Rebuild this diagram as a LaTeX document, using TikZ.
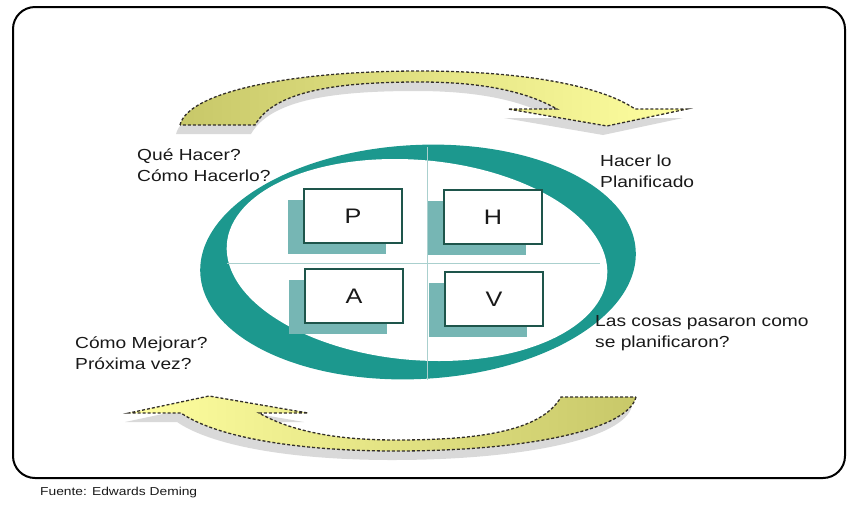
\documentclass[tikz,border=0pt]{standalone}
\usepackage{fontspec}
\setmainfont{Liberation Sans}[FakeStretch=1.2]
\usetikzlibrary{shadows}
\definecolor{ringteal}{RGB}{28,152,142}
\definecolor{shadowteal}{RGB}{118,182,180}
\definecolor{boxline}{RGB}{30,85,75}
\definecolor{divline}{RGB}{170,208,206}
\definecolor{oliveyel}{RGB}{200,200,105}
\definecolor{paleyel}{RGB}{255,255,160}
\newcommand{\pdcaarrow}{(180,125) .. controls (188,92) and (290,71) .. (420,71) .. controls (520,71) and (600,85) .. (635,109) -- (687,109) -- (607,126) -- (508,109) -- (557,109) .. controls (520,88) and (470,82) .. (420,82) .. controls (340,82) and (275,90) .. (255,125) -- cycle}

\begin{document}
\begin{tikzpicture}[x=1pt, y=-1pt, every node/.style={font=\fontsize{16}{21}\selectfont, text=black!90}]
  \tikzset{
    phasebox/.style={draw=boxline, fill=white, line width=1.2pt, minimum width=98pt, minimum height=54pt,
      font=\fontsize{21}{24}\selectfont, drop shadow={shadow xshift=-16pt, shadow yshift=-11pt, fill=shadowteal, opacity=1}},
    note/.style={anchor=west, align=left, inner sep=0pt},
    arrowline/.style={draw=black!85!olive, line width=1.3pt, densely dashed}
  }
  \useasboundingbox (0,0) rectangle (848,504);
  \draw[line width=2pt, rounded corners=22pt] (13,7) rectangle (845,478);
  % cycle arrows
  \fill[black!15] [shift={(-4,9)}] \pdcaarrow;
  \draw[arrowline, left color=oliveyel, right color=paleyel] \pdcaarrow;
  \begin{scope}[shift={(-4,9)}, rotate around={180:(408,261)}]
    \fill[black!15] \pdcaarrow;
  \end{scope}
  \begin{scope}[rotate around={180:(408,261)}]
    \draw[arrowline, left color=paleyel, right color=oliveyel] \pdcaarrow;
  \end{scope}
  % ring
  \fill[ringteal, rotate around={3:(418,262)}] (418,262) ellipse [x radius=218, y radius=117];
  \begin{scope}[shift={(417,260)}, xslant=-0.22]
    \fill[white] (0,0) ellipse [x radius=189, y radius=101];
  \end{scope}
  \draw[divline, line width=1pt] (427,147) -- (427,380);
  \draw[divline, line width=1pt] (227,263) -- (600,263);
  \foreach \n/\x/\y in {P/353/216,H/493/217,A/354/296,V/494/299}
    \node[phasebox] (\n) at (\x,\y) {\n};
  % texts
  \node[note] (plan) at (137,165) {Qué Hacer?\\Cómo Hacerlo?};
  \node[note] (do) at (600,171) {Hacer lo\\Planificado};
  \node[note] (act) at (75,353) {Cómo Mejorar?\\Próxima vez?};
  \node[note] (check) at (595,333) {Las cosas pasaron como\\se planificaron?};
  \node[note, font=\fontsize{11.5}{14}\selectfont] (source) at (40,493) {Fuente: Edwards Deming};
\end{tikzpicture}
\end{document}
